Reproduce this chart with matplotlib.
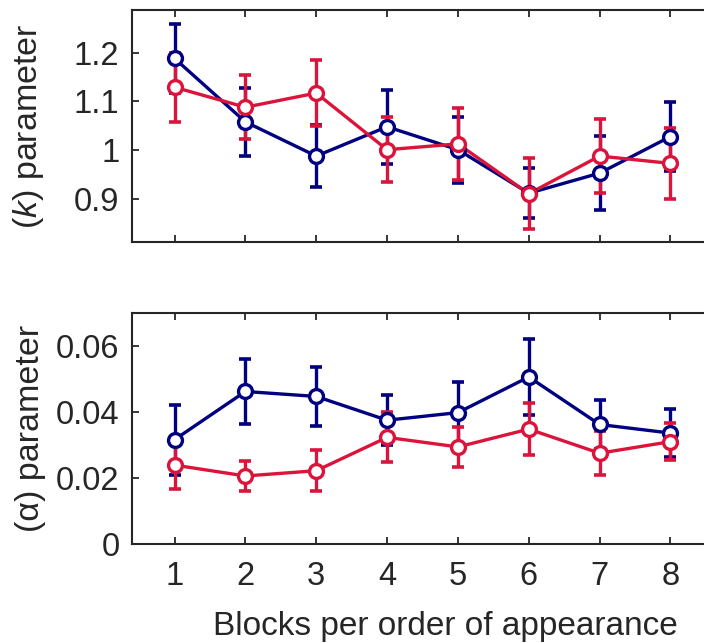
import matplotlib
matplotlib.use("Agg")
import matplotlib.pyplot as plt
import numpy as np

plt.rcParams['font.family'] = ['Liberation Sans', 'DejaVu Sans']
plt.rcParams['mathtext.fontset'] = 'custom'
plt.rcParams['mathtext.rm'] = 'Liberation Sans'
plt.rcParams['mathtext.it'] = 'Liberation Sans:italic'

blocks = [1, 2, 3, 4, 5, 6, 7, 8]

k_blue = [1.188, 1.058, 0.988, 1.048, 1.001, 0.912, 0.953, 1.028]
k_blue_err = [0.071, 0.069, 0.063, 0.076, 0.068, 0.051, 0.076, 0.070]
k_red = [1.129, 1.088, 1.117, 1.001, 1.013, 0.911, 0.988, 0.973]
k_red_err = [0.071, 0.065, 0.067, 0.066, 0.073, 0.073, 0.075, 0.072]

a_blue = [0.0317, 0.0463, 0.0448, 0.0376, 0.0399, 0.0507, 0.0363, 0.0337]
a_blue_err = [0.0106, 0.0097, 0.0089, 0.0076, 0.0094, 0.0116, 0.0075, 0.0072]
a_red = [0.0240, 0.0207, 0.0223, 0.0324, 0.0295, 0.0349, 0.0276, 0.0311]
a_red_err = [0.0072, 0.0045, 0.0062, 0.0076, 0.0061, 0.0079, 0.0067, 0.0057]

k_ticks = [0.9, 1.0, 1.1, 1.2]
k_ticklabels = ['0.9', '1', '1.1', '1.2']
a_ticks = [0, 0.02, 0.04, 0.06]
a_ticklabels = ['0', '0.02', '0.04', '0.06']

BLUE = '#000080'
RED = '#DC143C'
SPINE = '#262626'
FS = 23.5

fig = plt.figure(figsize=(7.04, 6.43), dpi=100)
ax1 = fig.add_axes([0.1875, 0.6236, 0.8253, 0.3608])
ax2 = fig.add_axes([0.1875, 0.1535, 0.8253, 0.3593])


def draw(ax, yb, eb, yr, er):
    for y, e, c in [(yb, eb, BLUE), (yr, er, RED)]:
        ax.errorbar(blocks, y, yerr=e, fmt='none', ecolor=c, elinewidth=2.4,
                    capsize=4.5, capthick=2.6, zorder=2)
    for y, c in [(yb, BLUE), (yr, RED)]:
        ax.plot(blocks, y, '-', color=c, lw=2.4, zorder=3)
    for y, c in [(yb, BLUE), (yr, RED)]:
        ax.plot(blocks, y, 'o', mfc='white', mec=c, mew=2.4, ms=10, zorder=4)
    ax.set_xlim(0.4, 8.6)
    ax.set_xticks(blocks)
    ax.tick_params(direction='in', length=5, width=1.3, colors=SPINE,
                   labelsize=FS, top=True, right=True)
    ax.tick_params(axis='y', pad=9)
    ax.tick_params(axis='x', pad=12)
    for s in ax.spines.values():
        s.set_color(SPINE)
        s.set_linewidth(1.5)


draw(ax1, k_blue, k_blue_err, k_red, k_red_err)
ax1.set_ylim(0.812, 1.287)
ax1.set_yticks(k_ticks)
ax1.set_yticklabels(k_ticklabels)
ax1.set_xticklabels([])
ax1.set_ylabel(r'($\mathit{k}$) parameter', fontsize=24.5, color=SPINE)
ax1.yaxis.set_label_coords(-0.148, 0.5)

draw(ax2, a_blue, a_blue_err, a_red, a_red_err)
ax2.set_ylim(0, 0.07)
ax2.set_yticks(a_ticks)
ax2.set_yticklabels(a_ticklabels)
ax2.set_xticklabels([str(b) for b in blocks])
ax2.set_ylabel('(α) parameter', fontsize=24.5, color=SPINE)
ax2.yaxis.set_label_coords(-0.148, 0.5)
ax2.set_xlabel('Blocks per order of appearance', fontsize=24, color=SPINE)
ax2.xaxis.set_label_coords(0.54, -0.29)

fig.savefig('out.png', dpi=100)
